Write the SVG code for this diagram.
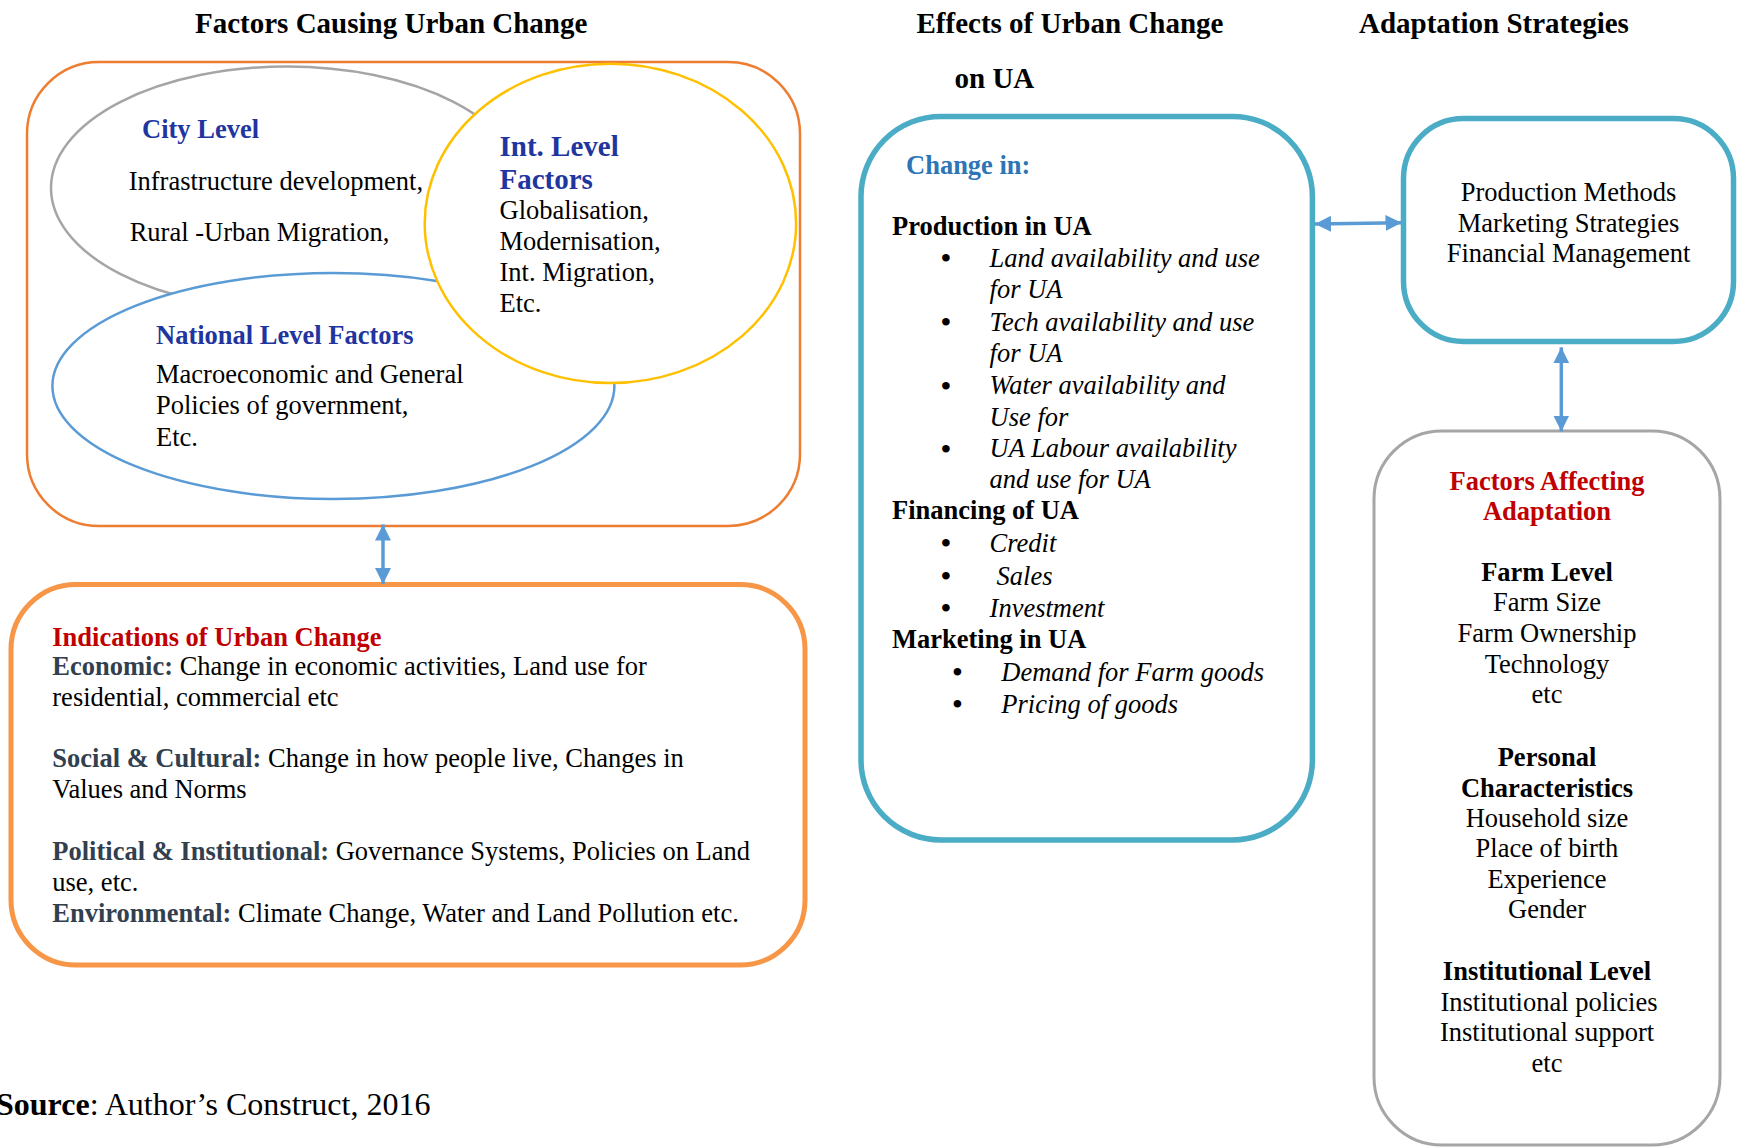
<svg xmlns="http://www.w3.org/2000/svg" width="1737" height="1148" viewBox="0 0 1737 1148">
<style>
text{font-family:"Liberation Serif","Times New Roman",serif;font-size:26.5px;fill:#000}
.t{font-size:29px;font-weight:bold}
.b{font-weight:bold}
.i{font-style:italic}
.bu{font-size:28px;font-weight:bold}
.navy{fill:#1f35a0;font-weight:bold}
.red{fill:#c00000;font-weight:bold}
.slate{fill:#323f4f;font-weight:bold}
.lblue{fill:#2e75b6;font-weight:bold}
.c{text-anchor:middle}
.conn{stroke:#5b9bd5;stroke-width:3.5;fill:none}
</style>
<defs>
<marker id="ah" viewBox="0 0 16 16" refX="16" refY="8" markerWidth="16" markerHeight="16" markerUnits="userSpaceOnUse" orient="auto-start-reverse">
<path d="M0,0 L16,8 L0,16 z" fill="#5b9bd5"/>
</marker>
<marker id="aht" viewBox="0 0 14 16" refX="14" refY="8" markerWidth="14" markerHeight="16" markerUnits="userSpaceOnUse" orient="auto">
<path d="M0,0 L14,8 L0,16 z" fill="#4bacc6"/>
</marker>
<filter id="sh" x="-20%" y="-100%" width="140%" height="300%">
<feDropShadow dx="1" dy="4" stdDeviation="2" flood-color="#000" flood-opacity="0.3"/>
</filter>
</defs>

<text class="t" x="195" y="33">Factors Causing Urban Change</text>
<text class="t" x="916.5" y="33">Effects of Urban Change</text>
<text class="t" x="954.5" y="88">on UA</text>
<text class="t" x="1359" y="33">Adaptation Strategies</text>

<g id="factors-causing">
<rect x="27" y="62" width="773" height="464" rx="72" ry="72" fill="#fff" stroke="#ed7d31" stroke-width="2.5"/>
<g id="city-level">
<ellipse cx="287" cy="188" rx="236" ry="121.5" fill="#fff" stroke="#a5a5a5" stroke-width="2.5"/>
</g>
<g id="national-level">
<ellipse cx="333.4" cy="386" rx="281" ry="113" fill="#fff" stroke="#5b9bd5" stroke-width="2.5"/>
</g>
<g id="int-level">
<ellipse cx="610.4" cy="223.4" rx="185.7" ry="159.7" fill="#fff" stroke="#ffc000" stroke-width="2.5"/>
</g>
<text class="navy" x="142" y="138">City Level</text>
<text x="128.7" y="189.5">Infrastructure development,</text>
<text x="129.7" y="241">Rural -Urban Migration,</text>
<text class="navy t" x="499.5" y="155.6">Int. Level</text>
<text class="navy t" x="499.5" y="188.7">Factors</text>
<text x="499.5" y="218.7">Globalisation,</text>
<text x="499.5" y="249.7">Modernisation,</text>
<text x="499.5" y="280.6">Int. Migration,</text>
<text x="499.5" y="311.6">Etc.</text>
<text class="navy" x="156" y="344.4">National Level Factors</text>
<text x="156" y="383">Macroeconomic and General</text>
<text x="156" y="414">Policies of government,</text>
<text x="156" y="446">Etc.</text>
</g>

<g id="indications">
<rect x="11" y="584.5" width="794" height="380.5" rx="65" ry="65" fill="#fff" stroke="#f79646" stroke-width="5"/>
<text class="red" x="52.3" y="646">Indications of Urban Change</text>
<text x="52.3" y="674.5"><tspan class="slate">Economic:</tspan> Change in economic activities, Land use for</text>
<text x="52.3" y="706">residential, commercial etc</text>
<text x="52.3" y="767.4"><tspan class="slate">Social &amp; Cultural:</tspan> Change in how people live, Changes in</text>
<text x="52.3" y="798">Values and Norms</text>
<text x="52.3" y="860"><tspan class="slate">Political &amp; Institutional:</tspan> Governance Systems, Policies on Land</text>
<text x="52.3" y="890.7">use, etc.</text>
<text x="52.3" y="921.8"><tspan class="slate">Environmental:</tspan> Climate Change, Water and Land Pollution etc.</text>
</g>

<g id="effects">
<rect x="861" y="116.4" width="451.4" height="723.6" rx="80" ry="80" fill="#fff" stroke="#4bacc6" stroke-width="5.5"/>
<text class="lblue" x="906" y="174">Change in:</text>
<text class="b" x="892" y="235.2">Production in UA</text>
<text class="bu" x="941" y="267.2">•</text><text class="i" x="989.6" y="266.9">Land availability and use</text>
<text class="i" x="989.6" y="297.9">for UA</text>
<text class="bu" x="941" y="331.3">•</text><text class="i" x="989.6" y="331">Tech availability and use</text>
<text class="i" x="989.6" y="361.6">for UA</text>
<text class="bu" x="941" y="394.6">•</text><text class="i" x="989.6" y="394.3">Water availability and</text>
<text class="i" x="989.6" y="425.5">Use for</text>
<text class="bu" x="941" y="457.6">•</text><text class="i" x="989.6" y="457.3">UA Labour availability</text>
<text class="i" x="989.6" y="488.3">and use for UA</text>
<text class="b" x="892" y="519.3">Financing of UA</text>
<text class="bu" x="941" y="552">•</text><text class="i" x="989.6" y="551.7">Credit</text>
<text class="bu" x="941" y="585.3">•</text><text class="i" x="996.6" y="585">Sales</text>
<text class="bu" x="941" y="617.3">•</text><text class="i" x="989.6" y="617">Investment</text>
<text class="b" x="892" y="648">Marketing in UA</text>
<text class="bu" x="952.5" y="680.8">•</text><text class="i" x="1001.3" y="680.5">Demand for Farm goods</text>
<text class="bu" x="952.5" y="712.8">•</text><text class="i" x="1001.3" y="712.5">Pricing of goods</text>
</g>

<g id="adaptation">
<rect x="1403.5" y="118.5" width="330" height="223" rx="60" ry="60" fill="#fff" stroke="#4bacc6" stroke-width="5.5"/>
<text class="c" x="1568.5" y="201.4">Production Methods</text>
<text class="c" x="1568.5" y="232.4">Marketing Strategies</text>
<text class="c" x="1568.5" y="262.4">Financial Management</text>
</g>

<g id="factors-affecting">
<rect x="1374" y="431" width="346" height="714" rx="68" ry="68" fill="#fff" stroke="#a6a6a6" stroke-width="3"/>
<text class="red c" x="1547" y="489.7">Factors Affecting</text>
<text class="red c" x="1547" y="520">Adaptation</text>
<text class="b c" x="1547" y="581.3">Farm Level</text>
<text class="c" x="1547" y="611.4">Farm Size</text>
<text class="c" x="1547" y="642.4">Farm Ownership</text>
<text class="c" x="1547" y="672.5">Technology</text>
<text class="c" x="1547" y="703">etc</text>
<text class="b c" x="1547" y="766">Personal</text>
<text class="b c" x="1547" y="796.5">Characteristics</text>
<text class="c" x="1547" y="826.5">Household size</text>
<text class="c" x="1547" y="856.6">Place of birth</text>
<text class="c" x="1547" y="887.6">Experience</text>
<text class="c" x="1547" y="917.7">Gender</text>
<text class="b c" x="1547" y="979.7">Institutional Level</text>
<text class="c" x="1549" y="1010.7">Institutional policies</text>
<text class="c" x="1547" y="1040.7">Institutional support</text>
<text class="c" x="1547" y="1071.8">etc</text>
</g>

<g id="connectors">
<line class="conn" x1="383" y1="524.5" x2="383" y2="584" marker-start="url(#ah)" marker-end="url(#ah)"/>
<line class="conn" x1="1315" y1="224" x2="1401.5" y2="222.7" marker-start="url(#ah)" marker-end="url(#ah)"/>
<line class="conn" x1="1561.3" y1="347.3" x2="1561.3" y2="431.5" marker-start="url(#ah)" marker-end="url(#ah)"/>
<line x1="806" y1="315.7" x2="864" y2="315.7" stroke="#4bacc6" stroke-width="5" marker-end="url(#aht)" filter="url(#sh)"/>
</g>

<text x="-4" y="1115" style="font-size:32px"><tspan class="b">Source</tspan>: Author’s Construct, 2016</text>
</svg>
